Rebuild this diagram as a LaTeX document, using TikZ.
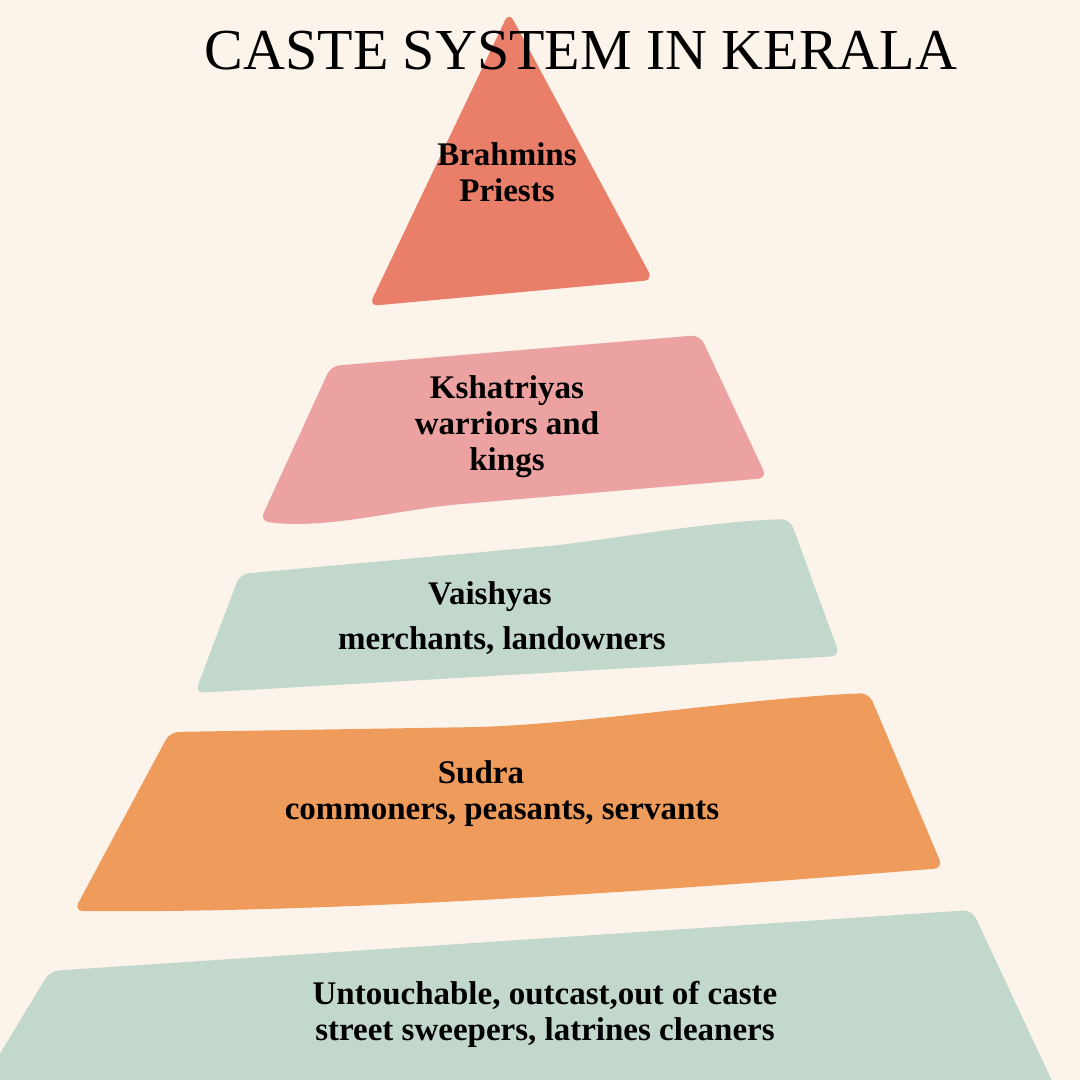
\documentclass[tikz,border=0pt]{standalone}
\usepackage{fontspec}
\setmainfont{Liberation Serif}
\definecolor{keralaBg}{HTML}{FCF3EA}
\definecolor{keralaRed}{HTML}{E97E69}
\definecolor{keralaPink}{HTML}{EBA2A1}
\definecolor{keralaSage}{HTML}{C2D8CC}
\definecolor{keralaOrange}{HTML}{EE9B5B}

\begin{document}
\begin{tikzpicture}[x=1pt, y=-1pt,
  tier/.style={rounded corners=9pt},
  tiertext/.style={font=\bfseries\fontsize{33}{36}\selectfont, align=center,
    inner sep=0pt, anchor=north},
  heading/.style={font=\fontsize{58}{64}\selectfont, inner sep=0pt, anchor=base}
]
\fill[keralaBg] (0,0) rectangle (1080,1080);
\useasboundingbox (0,0) rectangle (1080,1080);
\clip (0,0) rectangle (1080,1080);

% the five tiers, top to bottom
\fill[tier, keralaRed] (509,12) -- (653,280) -- (369,306) -- cycle;
\fill[tier, keralaPink] (331,366) -- (700,335) -- (767,478) -- (450,505)
  .. controls (380,514) and (320,529) .. (260,521) -- cycle;
\fill[tier, keralaSage] (240,574) -- (560,545)
  .. controls (650,533) and (720,521) .. (790,519) -- (840,656) -- (195,693) -- cycle;
\fill[tier, keralaOrange] (170,732) -- (480,727)
  .. controls (600,722) and (750,698) .. (869,693) -- (943,868)
  .. controls (600,896) and (300,913) .. (74,911) -- cycle;
\fill[tier, keralaSage] (50,971) -- (972,910) -- (1061,1100) -- (-28,1100) -- cycle;

\node[heading] (title) at (581,69) {CASTE SYSTEM IN KERALA};

\node[tiertext] (brahmins) at (507,142) {Brahmins\\Priests};
\node[tiertext] (kshatriyas) at (507,375) {Kshatriyas\\warriors and\\kings};
\node[tiertext] (vaishyas) at (502,581) {Vaishyas\hspace*{24pt}\\[9pt]merchants, landowners};
\node[tiertext] (sudra) at (502,760) {Sudra\hspace*{42pt}\\commoners, peasants, servants};
\node[tiertext] (untouchable) at (545,981) {Untouchable, outcast,out of caste\\street sweepers, latrines cleaners};
\end{tikzpicture}
\end{document}
